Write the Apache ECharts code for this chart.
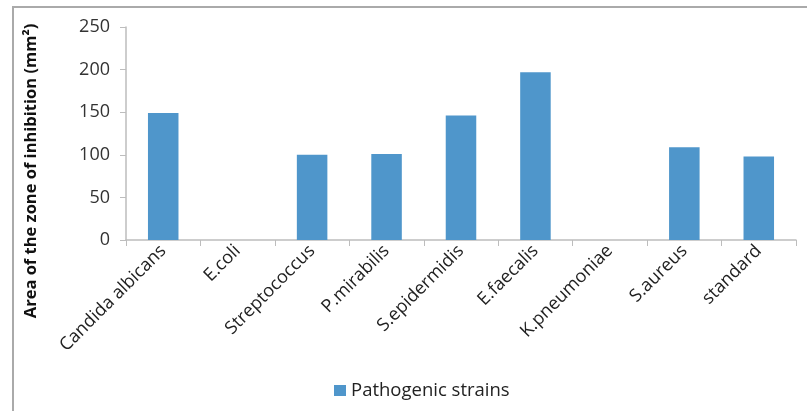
<!DOCTYPE html>
<html>
<head>
<meta charset="utf-8">
<script src="https://cdn.jsdelivr.net/npm/echarts@6/dist/echarts.min.js"></script>
<style>
html,body{margin:0;padding:0;background:#fff;}
#chart{width:807px;height:411px;}
</style>
</head>
<body>
<div id="chart"></div>
<script>
const categories = ['Candida albicans','E.coli','Streptococcus','P.mirabilis','S.epidermidis','E.faecalis','K.pneumoniae','S.aureus','standard'];
const values = [149, 0, 100, 101, 146, 197, 0, 109, 98];
const seriesName = 'Pathogenic strains';
const yTitle = 'Area of the zone of inhibition (mm²)';

const chart = echarts.init(document.getElementById('chart'), null, {renderer:'canvas'});
const axisColor = '#bdbdbd';
chart.setOption({
  animation:false,
  backgroundColor:'#fff',
  graphic:[{
    type:'polyline',
    shape:{points:[[13,411],[13,7],[807,7]]},
    style:{stroke:'#aaaaaa',lineWidth:2,fill:null}
  },{
    type:'text',
    x:31, y:171,
    rotation:Math.PI/2,
    style:{
      text:yTitle,
      fontFamily:'Open Sans',fontWeight:'bold',fontSize:16.5,fill:'#111',
      align:'center',verticalAlign:'middle'
    }
  }],
  grid:{left:126,right:11,top:27,bottom:171,containLabel:false},
  legend:{
    data:[seriesName],
    left:329, top:376,
    itemWidth:12, itemHeight:11, itemGap:5,
    icon:'rect',
    textStyle:{fontFamily:'Open Sans',fontSize:18.5,color:'#222'}
  },
  xAxis:{
    type:'category',
    data:categories,
    axisLine:{lineStyle:{color:axisColor,width:1.5}},
    axisTick:{show:true,length:6,lineStyle:{color:axisColor}},
    axisLabel:{rotate:45,interval:0,margin:8,fontFamily:'Open Sans',fontSize:18,color:'#222'}
  },
  yAxis:{
    type:'value',
    min:0,max:250,interval:50,
    axisLine:{show:true,lineStyle:{color:axisColor,width:1.5}},
    axisTick:{show:true,length:6,lineStyle:{color:axisColor}},
    splitLine:{show:false},
    axisLabel:{margin:16,fontFamily:'Open Sans',fontSize:18,color:'#333'}
  },
  series:[{
    name:seriesName,
    type:'bar',
    data:values,
    barWidth:'41%',
    itemStyle:{color:'#4f96cb',borderWidth:0}
  }]
});
</script>
</body>
</html>
